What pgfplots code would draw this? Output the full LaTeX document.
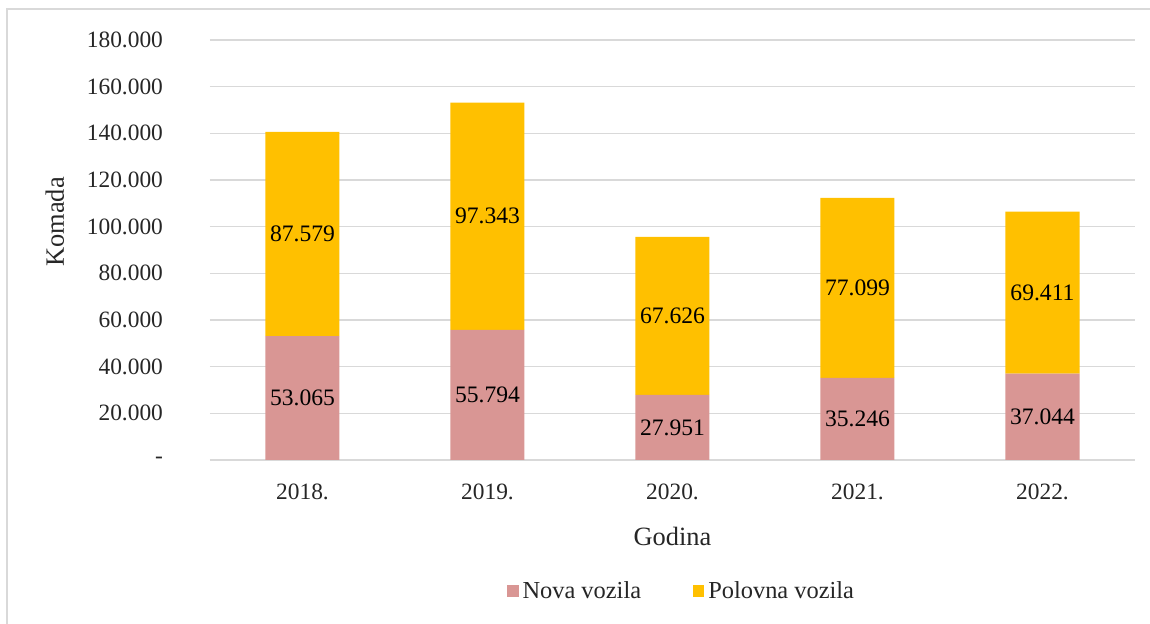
\documentclass[border=0pt]{standalone}
\usepackage{fontspec}
\setmainfont{Liberation Serif}
\usepackage{pgfplots}
\pgfplotsset{compat=1.18}
\definecolor{NovaPink}{RGB}{217,150,148}
\definecolor{PolovnaGold}{RGB}{255,192,0}
\definecolor{GridGray}{RGB}{217,217,217}

% values in thousands of units (53.065 = 53.065 komada)
\pgfplotstableread{
x nova polovna
0 53.065 87.579
1 55.794 97.343
2 27.951 67.626
3 35.246 77.099
4 37.044 69.411
}\vozila

\begin{document}
\begin{tikzpicture}
\useasboundingbox (-105pt,-82pt) rectangle (470pt,230pt);
% outer chart frame (only top and left edges are visible)
\draw[GridGray, line width=0.9pt] (-101.5pt,-90pt) -- (-101.5pt,225.5pt) -- (480pt,225.5pt);
\begin{axis}[
  at={(0,0)}, anchor=south west,
  scale only axis,
  width=462.5pt, height=210pt,
  ybar stacked,
  bar width=37pt,
  xmin=-0.5, xmax=4.5,
  ymin=0, ymax=180,
  xtick=data,
  xticklabels={2018.,2019.,2020.,2021.,2022.},
  ytick={0,20,...,180},
  yticklabels={-,20.000,40.000,60.000,80.000,100.000,120.000,140.000,160.000,180.000},
  /pgf/number format/assume math mode=true,
  font=\fontsize{11.7}{14}\selectfont,
  ticklabel style={text=black!85},
  xticklabel style={anchor=base, yshift=-20pt},
  yticklabel style={anchor=east, xshift=-20pt},
  major tick length=0pt,
  axis line style={draw=none},
  ymajorgrids=true,
  grid style={draw=GridGray, line width=0.8pt},
  xlabel={Godina},
  ylabel={Komada},
  every axis x label/.style={at={(axis description cs:0.5,-0.2024)}, anchor=base,
    font=\fontsize{13.2}{15}\selectfont, text=black!85},
  every axis y label/.style={at={(axis description cs:-0.1676,0.5667)}, rotate=90, anchor=center,
    font=\fontsize{13.2}{15}\selectfont, text=black!85},
  legend style={at={(axis description cs:0.511,-0.312)}, anchor=center, draw=none,
    legend columns=2, font=\fontsize{12.2}{14}\selectfont, text=black!85,
    /tikz/every even column/.append style={column sep=24pt}},
  legend image code/.code={\fill[#1, draw=none] (0pt,-2.8pt) rectangle (5.6pt,2.8pt);},
  point meta=explicit,
  nodes near coords={\pgfmathprintnumber[fixed,fixed zerofill,precision=3]{\pgfplotspointmeta}},
  every node near coord/.append style={anchor=center, text=black,
    font=\fontsize{11.8}{14}\selectfont},
]
\addplot[fill=NovaPink, draw=none] table[x=x, y=nova, meta=nova] {\vozila};
\addlegendentry{Nova vozila}
\addplot[fill=PolovnaGold, draw=none] table[x=x, y=polovna, meta=polovna] {\vozila};
\addlegendentry{Polovna vozila}
\end{axis}
\end{tikzpicture}
\end{document}
